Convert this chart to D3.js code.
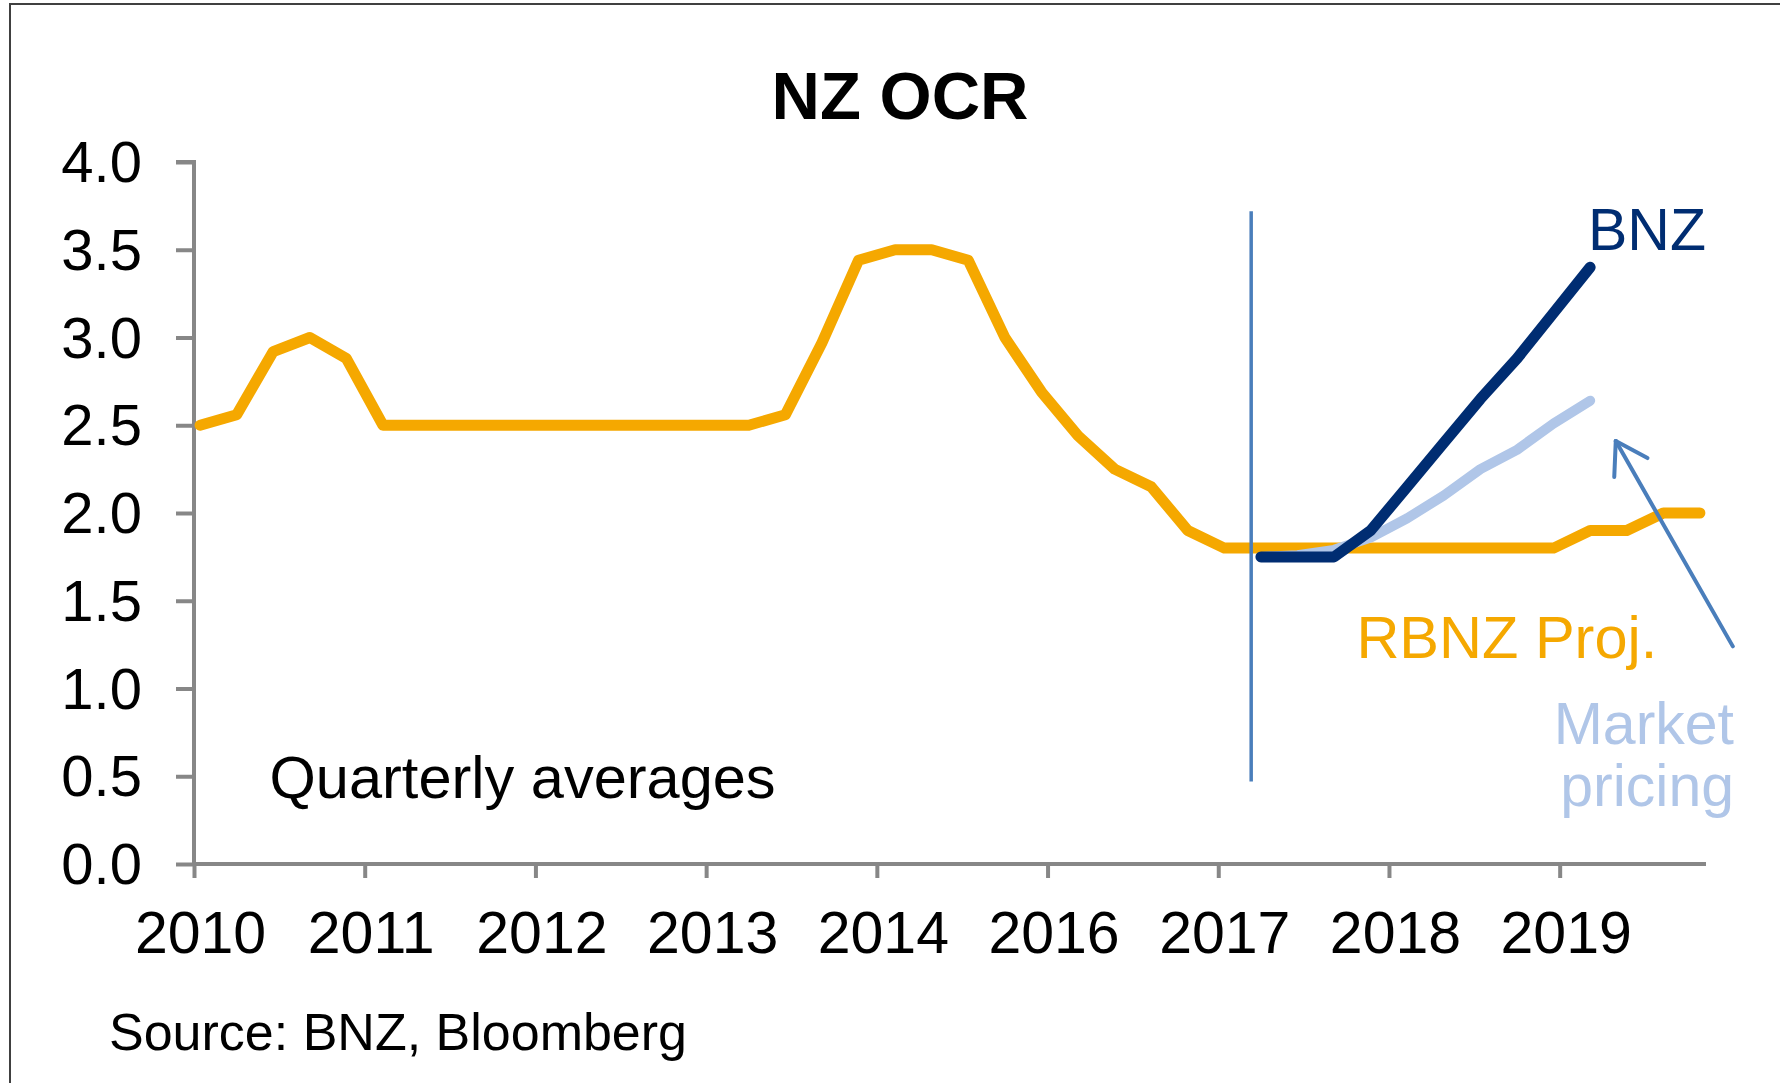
<!DOCTYPE html>
<html>
<head>
<meta charset="utf-8">
<script src="https://cdn.jsdelivr.net/npm/d3@7"></script>
<style>
  body { margin: 0; background: #fff; }
  text { font-family: "Liberation Sans", Arial, sans-serif; }
</style>
</head>
<body>
<div id="chart"></div>
<script>
// quarters as months counted from Mar 2010 (Mar 2010 .. Jun 2020)
const months = d3.range(0, 124, 3)
// OCR quarterly average, actual then RBNZ projection
const ocr = [2.50, 2.56, 2.92, 3.00, 2.88, 2.50, 2.50, 2.50, 2.50, 2.50,
             2.50, 2.50, 2.50, 2.50, 2.50, 2.50, 2.56, 2.97, 3.44, 3.50,
             3.50, 3.44, 3.00, 2.69, 2.44, 2.25, 2.15, 1.90, 1.80, 1.80,
             1.80, 1.80, 1.80, 1.80, 1.80, 1.80, 1.80, 1.80, 1.90, 1.90,
             2.00, 2.00]
// forecast quarters: Jun 2017 .. Sep 2019
const forecastMonths = d3.range(87, 115, 3)
const bnz = [1.75, 1.75, 1.75, 1.90, 2.15, 2.40, 2.65, 2.88, 3.14, 3.40]
const market = [1.75, 1.76, 1.79, 1.86, 1.97, 2.10, 2.25, 2.36, 2.51, 2.64]

// axis ticks (one every 14 months, as in the source chart)
const xTickMonths = d3.range(-0.5, 124, 14)
const xTickLabels = ["2010", "2011", "2012", "2013", "2014", "2016", "2017", "2018", "2019"]
const yTicks = [0, 0.5, 1, 1.5, 2, 2.5, 3, 3.5, 4]

const width = 1780
const height = 1083
const axisColor = "#878787"

let svg = d3.select("#chart")
            .append("svg")
            .attr("width", width)
            .attr("height", height)

// frame
svg.append("rect")
   .attr("x", 10)
   .attr("y", 4)
   .attr("width", width + 20)
   .attr("height", height + 20)
   .attr("fill", "#fff")
   .attr("stroke", "#404040")
   .attr("stroke-width", 2)

let x = d3.scaleLinear()
          .domain([-0.5, 123.5])
          .range([194, 1706])
let y = d3.scaleLinear()
          .domain([0, 4])
          .range([864, 162])

svg.append("text")
   .attr("x", 900)
   .attr("y", 119)
   .attr("text-anchor", "middle")
   .style("font-size", "67px")
   .style("font-weight", "bold")
   .text("NZ OCR")

//Axes
let yAxis = d3.axisLeft(y)
              .tickValues(yTicks)
              .tickSize(18)
              .tickPadding(34)
              .tickFormat(d3.format(".1f"))
let xAxis = d3.axisBottom(x)
              .tickValues(xTickMonths)
              .tickSize(14)
              .tickPadding(33)
              .tickFormat(function(d, i) { return xTickLabels[i] })

let gy = svg.append("g")
            .attr("transform", "translate(" + x.range()[0] + ",0)")
            .call(yAxis)
let gx = svg.append("g")
            .attr("transform", "translate(0," + y(0) + ")")
            .call(xAxis)

;[gx, gy].forEach(function(g) {
  g.select(".domain").attr("stroke", axisColor).attr("stroke-width", 4)
  g.selectAll(".tick line").attr("stroke", axisColor).attr("stroke-width", 4)
  g.selectAll(".tick text")
   .attr("fill", "#000")
   .style("font-size", "58px")
   .style("font-family", "'Liberation Sans', Arial, sans-serif")
})
gx.selectAll(".tick text").style("font-size", "59px").attr("dx", 6)
gy.select(".domain").attr("d", "M-18," + y(4) + "H0V" + y(0))
gy.selectAll(".tick text").attr("dy", "0.34em")
gx.select(".domain").attr("d", "M" + x.range()[0] + ",0H" + x.range()[1])
gx.selectAll(".tick text").attr("dy", "0.71em")

//Lines
let line = d3.line()
             .x(function(d) { return x(d[0]) })
             .y(function(d) { return y(d[1]) })

function drawLine(xs, ys, color, w) {
  svg.append("path")
     .datum(d3.zip(xs, ys))
     .attr("d", line)
     .attr("fill", "none")
     .attr("stroke", color)
     .attr("stroke-width", w)
     .attr("stroke-linejoin", "round")
     .attr("stroke-linecap", "round")
}
drawLine(months, ocr, "#F5A800", 11)
drawLine(forecastMonths, market, "#B0C6E8", 10)
drawLine(forecastMonths, bnz, "#002D72", 11)

// "now" marker
svg.append("line")
   .attr("x1", x(86.2)).attr("x2", x(86.2))
   .attr("y1", y(3.72)).attr("y2", y(0.47))
   .attr("stroke", "#4A7EBB")
   .attr("stroke-width", 3.5)

// arrow pointing at market pricing
let tail = [x(125.7), y(1.24)]
let tip = [x(116.1), y(2.41)]
let ang = Math.atan2(tail[1] - tip[1], tail[0] - tip[0])
let arrow = svg.append("g")
               .attr("stroke", "#4A7EBB")
               .attr("stroke-width", 4)
               .attr("stroke-linecap", "round")
               .attr("fill", "none")
arrow.append("line")
     .attr("x1", tail[0]).attr("y1", tail[1])
     .attr("x2", tip[0]).attr("y2", tip[1])
;[-0.56, 0.56].forEach(function(a) {
  arrow.append("line")
       .attr("x1", tip[0]).attr("y1", tip[1])
       .attr("x2", tip[0] + 36 * Math.cos(ang + a))
       .attr("y2", tip[1] + 36 * Math.sin(ang + a))
})

//Labels
function label(t, mx, v, color, anchor, size) {
  svg.append("text")
     .attr("x", x(mx))
     .attr("y", y(v))
     .attr("text-anchor", anchor)
     .attr("fill", color)
     .style("font-size", size + "px")
     .text(t)
}
label("BNZ", 123.5, 3.5, "#002D72", "end", 59)
label("RBNZ Proj.", 119.5, 1.174, "#F5A800", "end", 59.5)
label("Market", 125.8, 0.686, "#B0C6E8", "end", 59)
label("pricing", 125.8, 0.33, "#B0C6E8", "end", 59)
label("Quarterly averages", 5.7, 0.376, "#000", "start", 59.5)

svg.append("text")
   .attr("x", 109)
   .attr("y", 1050)
   .style("font-size", "52px")
   .text("Source: BNZ, Bloomberg")
</script>
</body>
</html>
